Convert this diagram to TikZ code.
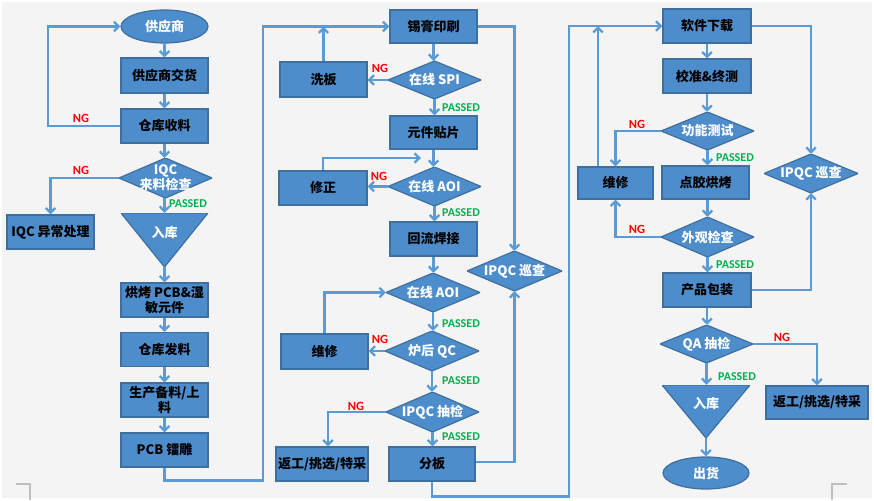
\documentclass[tikz,border=0pt]{standalone}
\usepackage{fontspec}
\setmainfont{Noto Sans CJK SC}
\newfontfamily\labfont{Carlito}
\usetikzlibrary{arrows.meta,shapes.geometric,calc}
\definecolor{bfill}{HTML}{4E8DCB}
\definecolor{bdraw}{HTML}{3E6F9E}
\definecolor{arrc}{HTML}{5B9BD5}
\definecolor{ngred}{HTML}{FF0000}
\definecolor{passg}{HTML}{00B050}
\definecolor{bgc}{HTML}{F4F4F4}
\definecolor{markc}{HTML}{BFBFBF}
\newcommand\mytri[1]{\smash{\raisebox{3pt}{#1}}}
\begin{document}
\begin{tikzpicture}[x=1pt,y=-1pt,
 box/.style={draw=bdraw, fill=bfill, line width=1.2pt, inner sep=0pt,
   minimum width=87pt, minimum height=34pt,
   font=\fontsize{13}{15}\selectfont\bfseries, text=black, align=center},
 wtext/.style={font=\fontsize{13}{15}\selectfont\bfseries, text=white, align=center, inner sep=0pt},
 dia/.style={wtext, minimum width=93pt, minimum height=40pt,
   path picture={\path[draw=bdraw, fill=bfill, line width=1.2pt]
     (path picture bounding box.north) -- (path picture bounding box.east) --
     (path picture bounding box.south) -- (path picture bounding box.west) -- cycle;}},
 tri/.style={wtext, minimum width=87pt, minimum height=54pt,
   path picture={\path[draw=bdraw, fill=bfill, line width=1.2pt]
     (path picture bounding box.north west) -- (path picture bounding box.north east) --
     (path picture bounding box.south) -- cycle;}},
 oval/.style={ellipse, draw=bdraw, fill=bfill, line width=1.2pt, inner sep=0pt,
   minimum width=87pt, minimum height=33pt, font=\fontsize{13}{15}\selectfont\bfseries, text=white},
 arr/.style={draw=arrc, line width=2.3pt, -{Straight Barb[length=4.8pt,width=9.5pt]}},
 ng/.style={font=\labfont\fontsize{12.5}{13}\selectfont\bfseries, text=ngred, inner sep=0pt},
 pass/.style={font=\labfont\fontsize{12}{13}\selectfont\bfseries, text=passg, inner sep=0pt},
]
\useasboundingbox (0,0) rectangle (874,500);
\fill[white] (0,0) rectangle (874,500);
\fill[bgc] (2,2) rectangle (872,498);
\draw[markc, line width=1.5pt] (16,484) -- (30,484) -- (30,500);
\draw[markc, line width=1.5pt] (847,484) -- (832,484) -- (832,500);

% ---------- left column
\node[oval] (s1) at (164.5,26.5) {供应商};
\node[box, minimum height=35pt] (b1) at (164.5,75.5) {供应商交货};
\node[box] (b2) at (164.5,126) {仓库收料};
\node[dia] (d1) at (165.5,178) {IQC\\来料检查};
\node[box] (b3) at (50.5,232) {IQC 异常处理};
\node[tri] (t1) at (164.5,240) {\mytri{入库}};
\node[box] (b4) at (164.5,300) {烘烤 PCB\&湿\\敏元件};
\node[box] (b5) at (164.5,349.5) {仓库发料};
\node[box] (b6) at (164.5,400) {生产备料/上\\料};
\node[box] (b7) at (164.5,450) {PCB 镭雕};

% ---------- middle column
\node[box, minimum height=33pt] (b8) at (433.5,26.5) {锡膏印刷};
\node[dia, minimum height=38pt] (d2) at (434.5,80) {在线 SPI};
\node[box, minimum height=35pt] (b9) at (323.5,79.5) {洗板};
\node[box, minimum height=33pt] (b10) at (433.5,132.5) {元件贴片};
\node[dia, minimum height=39pt] (d3) at (434.5,186.5) {在线 AOI};
\node[box, minimum width=88pt] (b11) at (323,188) {修正};
\node[box] (b12) at (433.5,239) {回流焊接};
\node[dia, minimum width=95pt] (d4) at (514.5,271) {IPQC 巡查};
\node[dia, minimum width=94pt, minimum height=39pt] (d5) at (433,292.5) {在线 AOI};
\node[box, minimum height=35pt] (b13) at (324.5,351.5) {维修};
\node[dia, minimum width=94pt] (d6) at (432,351) {炉后 QC};
\node[dia] (d7) at (432.5,412) {IPQC 抽检};
\node[box, minimum width=92pt] (b14) at (322,464) {返工/挑选/特采};
\node[box, minimum width=86pt] (b15) at (432,464) {分板};

% ---------- right column
\node[box, minimum width=88pt] (b16) at (707,26) {软件下载};
\node[box, minimum width=88pt] (b17) at (707,76) {校准\&终测};
\node[dia, minimum height=38pt] (d8) at (707.5,131) {功能测试};
\node[box, minimum width=75pt, minimum height=32pt] (b18) at (615.5,183) {维修};
\node[box, minimum height=33pt] (b19) at (705.5,182.5) {点胶烘烤};
\node[dia] (d9) at (707.5,237) {外观检查};
\node[dia, minimum width=94pt, minimum height=39pt] (d10) at (811,173.5) {IPQC 巡查};
\node[box, minimum width=88pt] (b20) at (707,290) {产品包装};
\node[dia, minimum height=38pt] (d11) at (706.5,344) {QA 抽检};
\node[box, minimum width=102pt, minimum height=33pt] (b21) at (817,402.5) {返工/挑选/特采};
\node[tri, minimum width=88pt, minimum height=53pt] (t2) at (706,411.5) {\mytri{入库}};
\node[oval, minimum width=86pt, minimum height=32pt] (e2) at (706,473) {出货};

% ---------- bend coordinates
\coordinate (c1) at (48,26.5);
\coordinate (c2) at (263,26.5);
\coordinate (c3) at (421,158);
\coordinate (c4) at (569,26);

% ---------- left connectors
\draw[arr] (s1.south) -- (s1.south |- b1.north);
\draw[arr] (b1.south) -- (b1.south |- b2.north);
\draw[arr] (b2.south) -- (b2.south |- d1.north);
\draw[arr] (b2.south |- d1.south) -- (b2.south |- t1.north);
\draw[arr] (t1.south) -- (t1.south |- b4.north);
\draw[arr] (b4.south) -- (b4.south |- b5.north);
\draw[arr] (b5.south) -- (b5.south |- b6.north);
\draw[arr] (b6.south) -- (b6.south |- b7.north);
\draw[arr] (b2.west) -| (c1) -- (s1.west);
\draw[arr] (d1.west) -| (b3.north);
\draw[arr] (b7.south) -- ++(0,13) -| (c2) -- (b8.west);

% ---------- middle connectors
\draw[arr] (b8.south) -- (b8.south |- d2.north);
\draw[arr] (d2.west) -- (d2.west -| b9.east);
\draw[arr] (b9.north) -- (b9.north |- b8.west);
\draw[arr] (d2.south) -- (d2.south |- b10.north);
\draw[arr] (b10.south) -- (b10.south |- d3.north);
\draw[arr] (d3.west) -- (d3.west -| b11.east);
\draw[arr] (b11.north) |- (c3);
\draw[arr] (d3.south) -- (d3.south |- b12.north);
\draw[arr] (b12.south) -- (b12.south |- d5.north);
\draw[arr] (b13.north) |- (d5.west);
\draw[arr] (d5.south) -- (d5.south |- d6.north);
\draw[arr] (d6.west) -- (d6.west -| b13.east);
\draw[arr] (d6.south) -- (d6.south |- d7.north);
\draw[arr] (d7.west) -| ([xshift=6pt]b14.north);
\draw[arr] (d7.south) -- (d7.south |- b15.north);
\draw[arr] (b8.east) -| (d4.north);
\draw[arr] ([yshift=2pt]b15.east) -| (d4.south);
\draw[arr] (b15.south) -- ++(0,15) -| (c4) -- (b16.west);

% ---------- right connectors
\draw[arr] (b16.south) -- (b16.south |- b17.north);
\draw[arr] (b17.south) -- (b17.south |- d8.north);
\draw[arr] (d8.south) -- (d8.south |- b19.north);
\draw[arr] (d8.west) -| (b18.north);
\draw[arr] ([xshift=-17.5pt]b18.north) -- ([xshift=-17.5pt]b18.north |- b16.west);
\draw[arr] (b19.south -| d9.north) -- (d9.north);
\draw[arr] (d9.west) -| (b18.south);
\draw[arr] (d9.south) -- (d9.south |- b20.north);
\draw[arr] (b20.south) -- (b20.south |- d11.north);
\draw[arr] (d11.south) -- (d11.south |- t2.north);
\draw[arr] (d11.east) -| (b21.north);
\draw[arr] (t2.south) -- (t2.south |- e2.north);
\draw[arr] (b16.east) -| (d10.north);
\draw[arr] (b20.east) -| (d10.south);

% ---------- labels
\node[ng] (ng1) at (81,118) {NG};
\node[ng] (ng2) at (81,170) {NG};
\node[pass] (p1) at (188,204) {PASSED};
\node[ng] (ng3) at (380,68) {NG};
\node[pass] (p2) at (461,108) {PASSED};
\node[ng] (ng4) at (379,176) {NG};
\node[pass] (p3) at (461,213) {PASSED};
\node[pass] (p4) at (461,324) {PASSED};
\node[ng] (ng5) at (380,339) {NG};
\node[pass] (p5) at (461,381) {PASSED};
\node[ng] (ng6) at (356,406) {NG};
\node[pass] (p6) at (461,437) {PASSED};
\node[ng] (ng7) at (637,124) {NG};
\node[pass] (p7) at (735,158) {PASSED};
\node[ng] (ng8) at (637,229) {NG};
\node[pass] (p8) at (735,265) {PASSED};
\node[ng] (ng9) at (782,337) {NG};
\node[pass] (p9) at (737,377) {PASSED};
\end{tikzpicture}
\end{document}
